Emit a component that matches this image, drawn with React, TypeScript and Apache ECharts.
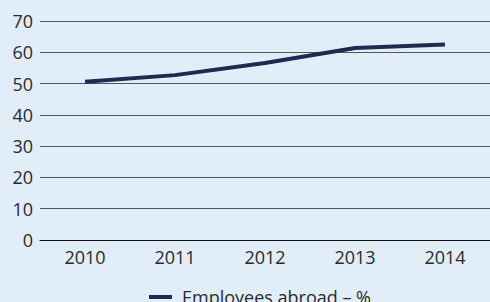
import React, { useEffect, useRef } from "react";
import * as echarts from "echarts";

const categories = ["2010", "2011", "2012", "2013", "2014"];
const employeesAbroad = [50.6, 52.7, 56.6, 61.4, 62.5];
const seriesName = "Employees abroad – %";

export default function App() {
  const ref = useRef<HTMLDivElement>(null);
  useEffect(() => {
    const chart = echarts.init(ref.current!, null, { renderer: "svg" });
    chart.setOption({
      animation: false,
      backgroundColor: "#e1eefa",
      textStyle: { fontFamily: "Open Sans" },
      grid: { left: 40, right: 0, top: 21, bottom: 62, containLabel: false },
      xAxis: {
        type: "category",
        data: categories,
        boundaryGap: true,
        axisLine: { show: true, lineStyle: { color: "#111", width: 1 } },
        axisTick: { show: false },
        axisLabel: { color: "#2a2a2a", fontSize: 18, margin: 8, fontFamily: "Open Sans" },
      },
      yAxis: {
        type: "value",
        min: 0,
        max: 70,
        interval: 10,
        axisLine: { show: false },
        axisTick: { show: false },
        splitLine: { lineStyle: { color: "#555", width: 1 } },
        axisLabel: { color: "#2a2a2a", fontSize: 18, margin: 7, fontFamily: "Open Sans" },
      },
      legend: {
        left: 144,
        top: 282,
        itemWidth: 23,
        itemHeight: 4,
        icon: "rect",
        textStyle: { color: "#2a2a2a", fontSize: 18, lineHeight: 20, fontFamily: "Open Sans", padding: [0, 0, 0, 5] },
        data: [seriesName],
      },
      series: [
        {
          name: seriesName,
          type: "line",
          data: employeesAbroad,
          symbol: "none",
          lineStyle: { color: "#1f2a50", width: 4 },
          itemStyle: { color: "#1f2a50" },
        },
      ],
    });
    return () => chart.dispose();
  }, []);
  return (
    <div
      ref={ref}
      style={{ position: "fixed", left: 0, top: 0, width: 490, height: 302 }}
    />
  );
}
